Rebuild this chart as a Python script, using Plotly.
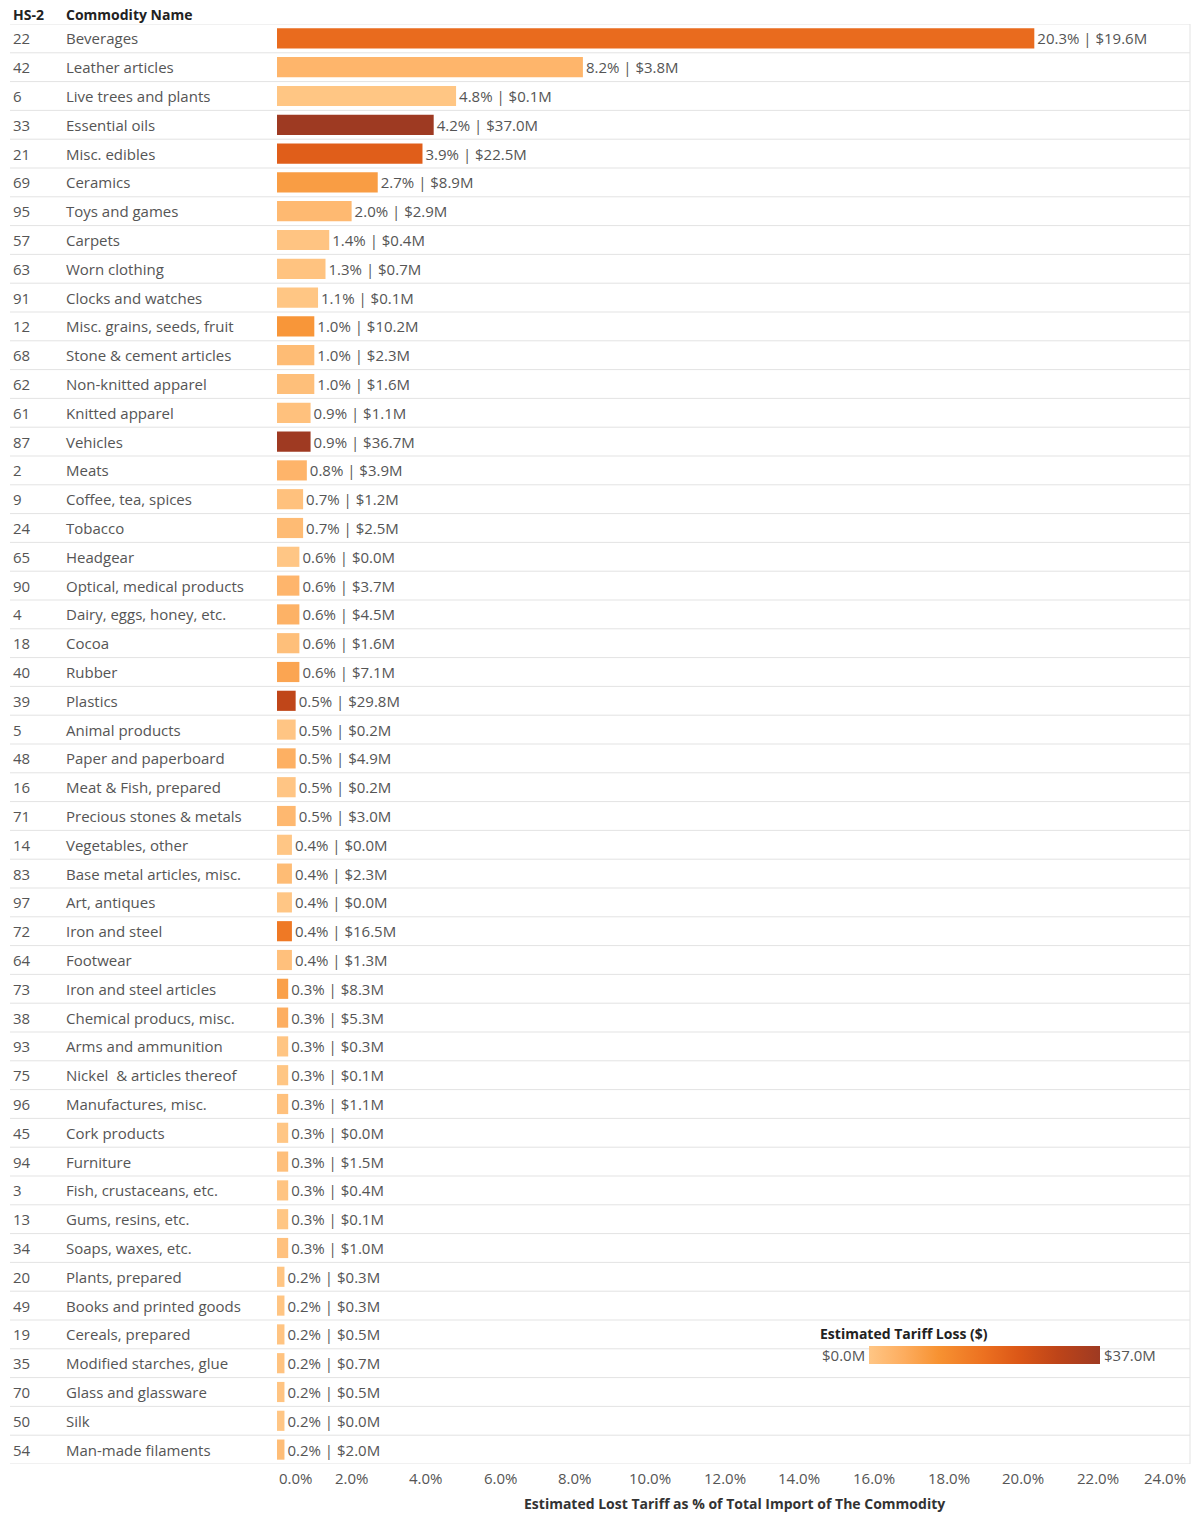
import plotly.graph_objects as go

codes = [22, 42, 6, 33, 21, 69, 95, 57, 63, 91, 12, 68, 62, 61, 87, 2, 9, 24, 65, 90,
         4, 18, 40, 39, 5, 48, 16, 71, 14, 83, 97, 72, 64, 73, 38, 93, 75, 96, 45, 94,
         3, 13, 34, 20, 49, 19, 35, 70, 50, 54]
names = ["Beverages", "Leather articles", "Live trees and plants", "Essential oils", "Misc. edibles",
         "Ceramics", "Toys and games", "Carpets", "Worn clothing", "Clocks and watches",
         "Misc. grains, seeds, fruit", "Stone & cement articles", "Non-knitted apparel", "Knitted apparel",
         "Vehicles", "Meats", "Coffee, tea, spices", "Tobacco", "Headgear", "Optical, medical products",
         "Dairy, eggs, honey, etc.", "Cocoa", "Rubber", "Plastics", "Animal products",
         "Paper and paperboard", "Meat & Fish, prepared", "Precious stones & metals", "Vegetables, other",
         "Base metal articles, misc.", "Art, antiques", "Iron and steel", "Footwear",
         "Iron and steel articles", "Chemical producs, misc.", "Arms and ammunition",
         "Nickel  & articles thereof", "Manufactures, misc.", "Cork products", "Furniture",
         "Fish, crustaceans, etc.", "Gums, resins, etc.", "Soaps, waxes, etc.", "Plants, prepared",
         "Books and printed goods", "Cereals, prepared", "Modified starches, glue", "Glass and glassware",
         "Silk", "Man-made filaments"]
pct = [20.3, 8.2, 4.8, 4.2, 3.9, 2.7, 2.0, 1.4, 1.3, 1.1, 1.0, 1.0, 1.0, 0.9, 0.9, 0.8, 0.7, 0.7, 0.6, 0.6,
       0.6, 0.6, 0.6, 0.5, 0.5, 0.5, 0.5, 0.5, 0.4, 0.4, 0.4, 0.4, 0.4, 0.3, 0.3, 0.3, 0.3, 0.3, 0.3, 0.3,
       0.3, 0.3, 0.3, 0.2, 0.2, 0.2, 0.2, 0.2, 0.2, 0.2]
loss = [19.6, 3.8, 0.1, 37.0, 22.5, 8.9, 2.9, 0.4, 0.7, 0.1, 10.2, 2.3, 1.6, 1.1, 36.7, 3.9, 1.2, 2.5, 0.0, 3.7,
        4.5, 1.6, 7.1, 29.8, 0.2, 4.9, 0.2, 3.0, 0.0, 2.3, 0.0, 16.5, 1.3, 8.3, 5.3, 0.3, 0.1, 1.1, 0.0, 1.5,
        0.4, 0.1, 1.0, 0.3, 0.3, 0.5, 0.7, 0.5, 0.0, 2.0]
tick_vals = [0, 2, 4, 6, 8, 10, 12, 14, 16, 18, 20, 22, 24]

W, H = 1201, 1513
L, R, T, B = 277, 10, 24, 49
pw = W - L - R
ph = H - T - B

def px_x(p):
    return (p - L) / pw

def px_y(p):
    return (H - B - p) / ph

FONT = "Open Sans"
FS = 15
FB = 14
TXT = "#555555"
DARK = "#222222"

colorscale = [[0.0, "#ffc685"], [0.15, "#fdad5f"], [0.3, "#f79232"], [0.5, "#ec7020"],
              [0.65, "#db5717"], [0.82, "#bd4419"], [1.0, "#9e3a22"]]

ys = list(range(len(names)))
labels = [f"{p:.1f}% | ${l:.1f}M" for p, l in zip(pct, loss)]

fig = go.Figure()
fig.add_trace(go.Bar(
    x=pct, y=ys, orientation="h", width=0.7,
    marker=dict(color=loss, colorscale=colorscale, cmin=0, cmax=37.0, line=dict(width=0),
                showscale=True,
                colorbar=dict(orientation="h", x=px_x(869), xanchor="left", y=px_y(1355), yanchor="middle",
                              lenmode="pixels", len=231, thickness=18, xpad=0, ypad=0,
                              showticklabels=False, ticks="", outlinewidth=0)),
    text=labels, textposition="outside", cliponaxis=False,
    textfont=dict(family=FONT, size=FS, color=TXT),
    hoverinfo="skip",
))

ann = []
for i, (c, n) in enumerate(zip(codes, names)):
    ann.append(dict(x=px_x(11), y=i, xref="paper", yref="y", text=str(c), showarrow=False,
                    xanchor="left", yanchor="middle", font=dict(family=FONT, size=FS, color=TXT)))
    ann.append(dict(x=px_x(64), y=i, xref="paper", yref="y", text=n, showarrow=False,
                    xanchor="left", yanchor="middle", font=dict(family=FONT, size=FS, color=TXT)))
ann.append(dict(x=px_x(11), y=px_y(14), xref="paper", yref="paper", text="<b>HS-2</b>", showarrow=False,
                xanchor="left", yanchor="middle", font=dict(family=FONT, size=FB, color=DARK)))
ann.append(dict(x=px_x(64), y=px_y(14), xref="paper", yref="paper", text="<b>Commodity Name</b>", showarrow=False,
                xanchor="left", yanchor="middle", font=dict(family=FONT, size=FB, color=DARK)))
for t in tick_vals:
    xa = "left" if t == 0 else "center"
    xs = -7 if t == tick_vals[-1] else 0
    ann.append(dict(x=t, y=px_y(1478), xref="x", yref="paper", text=f"{t:.1f}%", showarrow=False,
                    xanchor=xa, yanchor="middle", xshift=xs, font=dict(family=FONT, size=FS, color=TXT)))
ann.append(dict(x=0.5, y=px_y(1504), xref="paper", yref="paper",
                text="<b>Estimated Lost Tariff as % of Total Import of The Commodity</b>", showarrow=False,
                xanchor="center", yanchor="middle", font=dict(family=FONT, size=FB, color="#333333")))
ann.append(dict(x=px_x(818), y=px_y(1333), xref="paper", yref="paper", text="<b>Estimated Tariff Loss ($)</b>",
                showarrow=False, xanchor="left", yanchor="middle", font=dict(family=FONT, size=FB, color=DARK)))
ann.append(dict(x=px_x(867), y=px_y(1355), xref="paper", yref="paper", text="$0.0M",
                showarrow=False, xanchor="right", yanchor="middle", font=dict(family=FONT, size=FS, color=TXT)))
ann.append(dict(x=px_x(1102), y=px_y(1355), xref="paper", yref="paper", text="$37.0M",
                showarrow=False, xanchor="left", yanchor="middle", font=dict(family=FONT, size=FS, color=TXT)))

shapes = []
for i in range(-1, len(names)):
    shapes.append(dict(type="line", xref="paper", yref="y", x0=px_x(10), x1=px_x(1190),
                       y0=i + 0.5, y1=i + 0.5, line=dict(color="#e3e3e3", width=1), layer="below"))
shapes.append(dict(type="line", xref="paper", yref="y", x0=px_x(1190), x1=px_x(1190),
                   y0=-0.5, y1=len(names) - 0.5, line=dict(color="#e3e3e3", width=1), layer="below"))

fig.update_layout(
    width=W, height=H, margin=dict(l=L, r=R, t=T, b=B),
    paper_bgcolor="white", plot_bgcolor="white",
    showlegend=False, bargap=0.3,
    xaxis=dict(range=[0, 24.5], showgrid=False, zeroline=False, showticklabels=False, ticks="",
               fixedrange=True),
    yaxis=dict(range=[len(names) - 0.5, -0.5], showgrid=False, zeroline=False, showticklabels=False,
               ticks="", fixedrange=True),
    annotations=ann, shapes=shapes,
    font=dict(family=FONT, size=FS, color=TXT),
)

fig.write_html("out.html")
